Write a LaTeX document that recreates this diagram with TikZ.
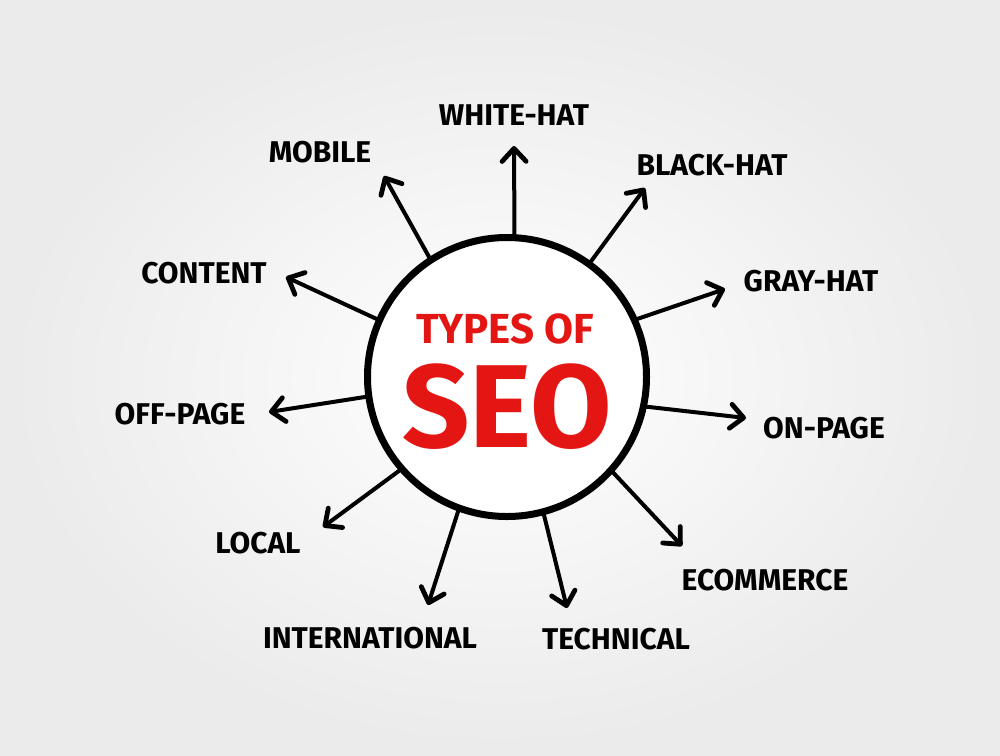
\documentclass[tikz,border=0pt]{standalone}
\usepackage{fontspec}
\setmainfont{Fira Sans}
\usetikzlibrary{arrows.meta}

\definecolor{seored}{RGB}{228,22,20}

\tikzset{
  kind/.style={font=\bfseries\fontsize{30}{32}\selectfont, inner sep=0pt},
  arr/.style={line width=4pt, line cap=round,
    -{Straight Barb[length=13pt, width=24pt, line width=0pt 1.2, line cap=round, line join=round]}},
}

\begin{document}
\begin{tikzpicture}[x=1pt, y=-1pt]
    \useasboundingbox (0,0) rectangle (1000,755);
    \shade[inner color=white, outer color=gray!16] (0,0) rectangle (1000,755);

    % centre circle
    \node[circle, draw, line width=7pt, fill=white, minimum size=279pt, inner sep=0pt] (seo) at (507,377) {};
    \node[text=seored, font=\bfseries\fontsize{42}{44}\selectfont] (types) at (505,329) {TYPES OF};
    \node[text=seored, font=\bfseries\fontsize{118}{120}\selectfont] (big) at (507,407) {SEO};

    % labels
    \node[kind] (white) at (514,115) {WHITE-HAT};
    \node[kind] (black) at (712,165) {BLACK-HAT};
    \node[kind] (gray) at (811,281) {GRAY-HAT};
    \node[kind] (onpage) at (824,428) {ON-PAGE};
    \node[kind] (ecom) at (765,580) {ECOMMERCE};
    \node[kind] (tech) at (616,639) {TECHNICAL};
    \node[kind] (intl) at (370,638) {INTERNATIONAL};
    \node[kind] (local) at (258,543) {LOCAL};
    \node[kind] (offpage) at (180,414) {OFF-PAGE};
    \node[kind] (content) at (204,273) {CONTENT};
    \node[kind] (mobile) at (320,152) {MOBILE};

    % arrow tips
    \coordinate (t-white) at (514,146);
    \coordinate (t-black) at (645,188);
    \coordinate (t-gray) at (725,289);
    \coordinate (t-onpage) at (746,418);
    \coordinate (t-ecom) at (682,546);
    \coordinate (t-tech) at (567,608);
    \coordinate (t-intl) at (428,605);
    \coordinate (t-local) at (323,527);
    \coordinate (t-offpage) at (269,412);
    \coordinate (t-content) at (286,277);
    \coordinate (t-mobile) at (384,176);

    \draw[arr] (seo.87) -- (t-white);
    \draw[arr] (seo.54) -- (t-black);
    \draw[arr] (seo.24) -- (t-gray);
    \draw[arr] (seo.-12) -- (t-onpage);
    \draw[arr] (seo.-42) -- (t-ecom);
    \draw[arr] (seo.-75) -- (t-tech);
    \draw[arr] (seo.-110) -- (t-intl);
    \draw[arr] (seo.-139) -- (t-local);
    \draw[arr] (seo.188) -- (t-offpage);
    \draw[arr] (seo.156) -- (t-content);
    \draw[arr] (seo.123) -- (t-mobile);
\end{tikzpicture}
\end{document}
